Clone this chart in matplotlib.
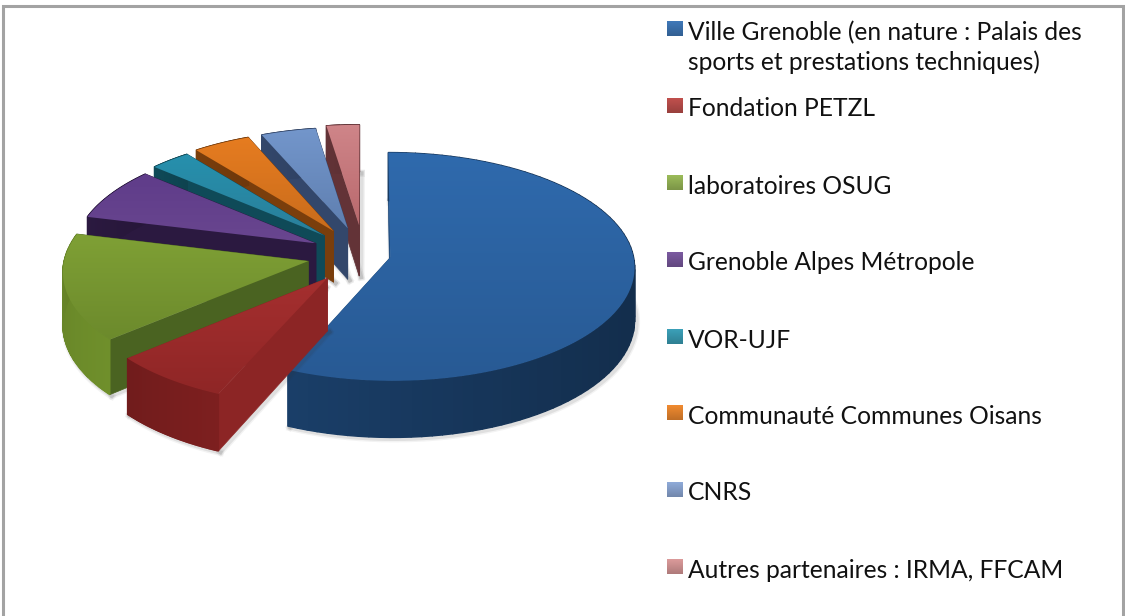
import matplotlib
matplotlib.use("Agg")
import matplotlib.pyplot as plt
from matplotlib.colors import LinearSegmentedColormap, to_rgb
from matplotlib.patches import Polygon, Rectangle
import numpy as np

labels = ["Ville Grenoble (en nature : Palais des\nsports et prestations techniques)",
          "Fondation PETZL", "laboratoires OSUG", "Grenoble Alpes Métropole", "VOR-UJF",
          "Communauté Communes Oisans", "CNRS", "Autres partenaires : IRMA, FFCAM"]
shares = [56.5, 7.2, 15.2, 7.5, 3.0, 4.2, 4.0, 2.4]
explode = [0.11, 0.25, 0.235, 0.225, 0.24, 0.25, 0.25, 0.27]

top_hi = ["#2F6AAD", "#A52F2F", "#7FA035", "#5F3C8A", "#2690AD", "#E67C20", "#7396CB", "#CF8589"]
top_lo = ["#285A94", "#8F2626", "#6C8A2C", "#69468F", "#2A7F9A", "#C96C1C", "#5F7FB0", "#B9696D"]
cut_col = ["#1E4A7C", "#8C2525", "#4A6321", "#2B1940", "#0F4A58", "#7A3E0C", "#33476B", "#633337"]
arc_col = ["#1D4675", "#7D1F1F", "#6F8F2B", "#2B1940", "#0F4A58", "#7A3E0C", "#33476B", "#633337"]
legend_col = ["#3F78B8", "#C0504D", "#9BBB59", "#7B5AA0", "#3BA0B8", "#F08A30", "#8FAAD8", "#DB9A9A"]

cx, cy = 364, 255
rx, ry, depth = 243, 113, 52
persp = 0.08


def project(u, v, z=0.0):
    s = 1 / (1 - persp * np.asarray(v))
    return np.column_stack([cx + rx * np.asarray(u) * s, cy + ry * np.asarray(v) * s + depth * z * s])


def darker(col, f):
    return tuple(c * f for c in to_rgb(col))


plt.rcParams["font.family"] = ["Lato", "DejaVu Sans"]
fig = plt.figure(figsize=(11.25, 6.16), dpi=100)
ax = fig.add_axes([0, 0, 1, 1])
ax.axis("off")

ax.add_patch(Rectangle((3, 6), 1119.5, 630, fc="white", ec="#A3A3A3", lw=2.2, zorder=0))

edges = np.cumsum([0] + shares) / sum(shares) * 2 * np.pi
slices = []
for i in range(len(shares)):
    th = np.linspace(edges[i], edges[i + 1], 90)
    mid = (edges[i] + edges[i + 1]) / 2
    ou, ov = explode[i] * np.sin(mid), -explode[i] * np.cos(mid)
    slices.append((ov + np.mean(-np.cos(th)), i, th, ou, ov))

z = 1
for _, i, th, ou, ov in sorted(slices, key=lambda t: t[0]):
    au = ou + np.sin(th)
    av = ov - np.cos(th)
    apex = project([ou], [ov])[0]
    apex_b = project([ou], [ov], 1.0)[0]
    top_arc = project(au, av)
    bottom = project(au, av, 1.0)

    # soft shadow along the lower edges
    for k in [0, -1]:
        for lw, al in [(5, 0.06), (3, 0.1)]:
            ax.plot([apex_b[0] + 2, bottom[k][0] + 2], [apex_b[1] + 1, bottom[k][1] + 1],
                    color="#333333", lw=lw, alpha=al, zorder=z)
    for lw, al in [(5, 0.06), (3, 0.1)]:
        ax.plot(bottom[:, 0] + 2, bottom[:, 1] + 1.5, color="#333333", lw=lw, alpha=al, zorder=z)
    z += 1

    # cut faces
    for k in [0, -1]:
        ax.add_patch(Polygon([apex, top_arc[k], bottom[k], apex_b], closed=True,
                             fc=cut_col[i], ec=cut_col[i], lw=0.5, zorder=z))
    z += 1

    # outer wall, strip by strip
    for k in range(len(th) - 1):
        shade = 1 - 0.35 * (au[k] + 0.9) / 2.0 if i == 0 else 1 - 0.1 * (k / len(th))
        col = darker(arc_col[i], shade)
        ax.add_patch(Polygon([top_arc[k], top_arc[k + 1], bottom[k + 1], bottom[k]], closed=True,
                             fc=col, ec=col, lw=1, zorder=z))
    z += 1

    # top face with a vertical gradient
    top = np.vstack([apex, top_arc])
    x0, y0 = top.min(axis=0)
    x1, y1 = top.max(axis=0)
    cmap = LinearSegmentedColormap.from_list("s", [top_hi[i], top_lo[i]])
    im = ax.imshow(np.linspace(0, 1, 128).reshape(-1, 1), cmap=cmap, extent=[x0, x1, y1, y0],
                   aspect="auto", zorder=z)
    clip = Polygon(top, closed=True, fc="none", ec="none", zorder=z)
    ax.add_patch(clip)
    im.set_clip_path(clip)
    z += 1

# legend
row_y = [31, 108, 185, 262, 339, 415, 492, 569]
for i, lab in enumerate(labels):
    y = row_y[i]
    cmap = LinearSegmentedColormap.from_list("l", [legend_col[i], darker(legend_col[i], 0.8)])
    ax.imshow(np.linspace(0, 1, 16).reshape(-1, 1), cmap=cmap, extent=[667, 683, y + 5, y - 10],
              aspect="auto", zorder=z)
    if i == 0:
        ax.text(688, 21, lab, fontsize=17.7, color="#111111", va="top", linespacing=1.33, zorder=z)
    else:
        ax.text(688, y + 1, lab, fontsize=17.7, color="#111111", va="center", zorder=z)

ax.set_xlim(0, 1125)
ax.set_ylim(616, 0)
fig.savefig("out.png", dpi=100)
